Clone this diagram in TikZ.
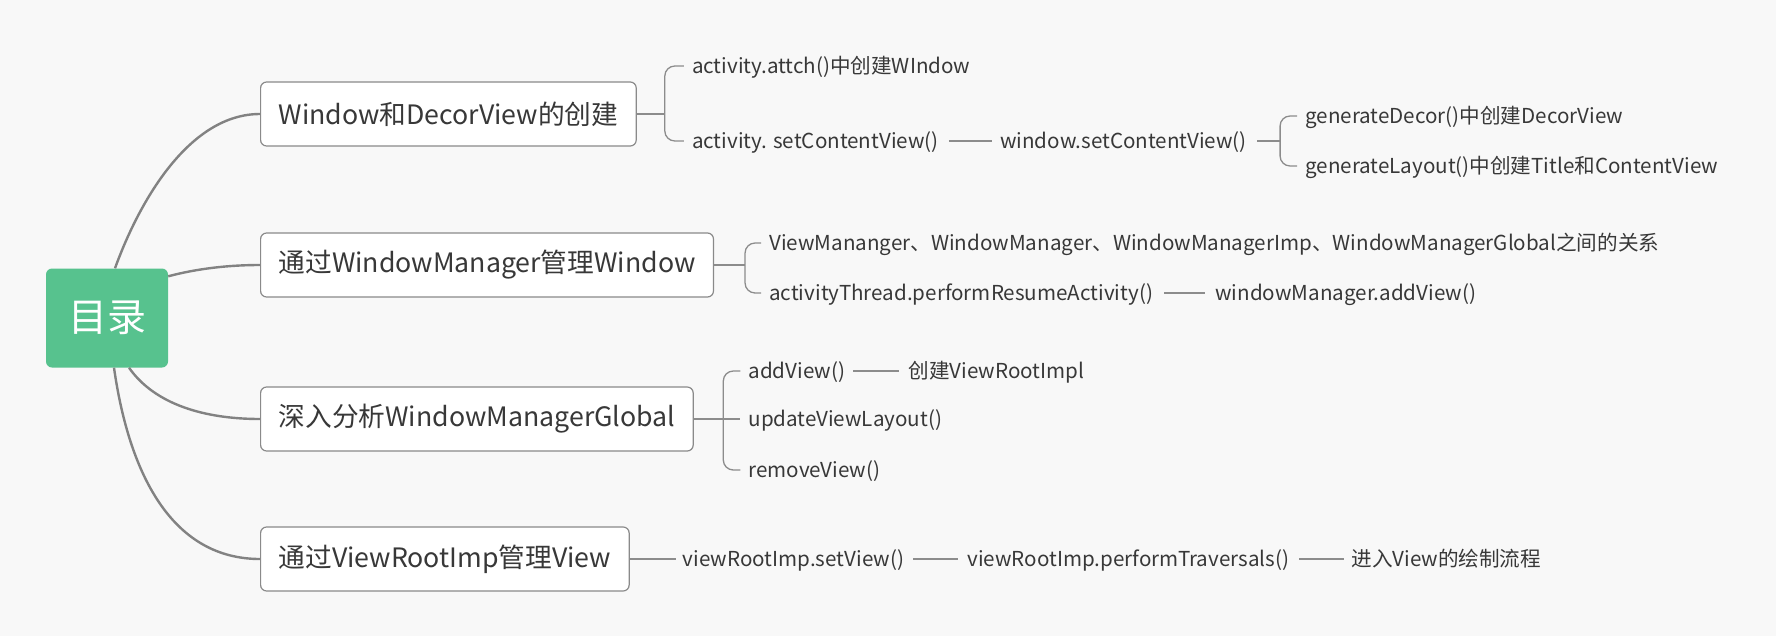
\documentclass[tikz,border=0pt]{standalone}
\usepackage{fontspec}
\setmainfont{Noto Sans CJK SC}
\usetikzlibrary{positioning,calc}
\definecolor{bg}{HTML}{F8F8F8}
\definecolor{rootc}{HTML}{57C28E}
\definecolor{linec}{HTML}{828282}
\definecolor{twigc}{HTML}{8C8C8C}
\definecolor{topicb}{HTML}{8A8A8A}
\definecolor{textc}{HTML}{383838}
\begin{document}
\begin{tikzpicture}[x=1pt,y=-1pt,
  trunk/.style={draw=linec, line width=2.4pt},
  twig/.style={draw=twigc, line width=1.3pt},
  root/.style={rectangle, rounded corners=6pt, fill=rootc, text=white, font=\fontsize{39}{44}\selectfont, minimum width=122pt, minimum height=99pt, inner sep=0pt},
  topic/.style={rectangle, rounded corners=6pt, draw=topicb, line width=1.2pt, fill=white, text=textc, font=\fontsize{26.7}{31}\selectfont, minimum height=64pt, inner xsep=18pt, anchor=west},
  leaf/.style={text=textc, font=\fontsize{20.6}{24}\selectfont, inner sep=0pt, text height=17.4pt, text depth=2.2pt, anchor=west},
  brace/.style={twig, rounded corners=10pt},
]
\useasboundingbox (0,0) rectangle (1786,640);
\fill[white] (0,0) rectangle (1786,640);
\fill[bg] (0,0) rectangle (1776,636);

% root and topics
\node[root] (root) at (107,318) {目录};
\node[topic] (n1) at (260,114) {Window和DecorView的创建};
\node[topic] (n2) at (260,265) {通过WindowManager管理Window};
\node[topic] (n3) at (260,419) {深入分析WindowManagerGlobal};
\node[topic] (n4) at (260,559) {通过ViewRootImp管理View};

\draw[trunk] ([xshift=8pt]root.north) .. controls +(25,-69) and +(-70,0) .. (n1.west);
\draw[trunk] ([yshift=-8pt]root.north east) .. controls +(30,-8) and +(-30,0) .. (n2.west);
\draw[trunk] ([xshift=22pt]root.south) .. controls +(26,37) and +(-55,0) .. (n3.west);
\draw[trunk] ([xshift=7pt]root.south) .. controls +(16,112) and +(-85,0) .. (n4.west);

% branch 1
\coordinate (br1) at ([xshift=28pt]n1.east);
\node[leaf] (a1) at ([shift={(27,-48)}]br1) {activity.attch()中创建WIndow};
\node[leaf] (a2) at ([shift={(27,27)}]br1) {activity. setContentView()};
\node[leaf, right=61pt of a2] (a3) {window.setContentView()};
\draw[twig] (n1.east) -- (br1);
\draw[brace] ([xshift=-8pt]a1.west) -- (br1 |- a1.west) -- (br1 |- a2.west) -- ([xshift=-8pt]a2.west);
\draw[twig] ([xshift=10pt]a2.east) -- ([xshift=-8pt]a3.west);

\coordinate (br2) at ([xshift=33pt]a3.east);
\node[leaf] (b1) at ([shift={(25,-25)}]br2) {generateDecor()中创建DecorView};
\node[leaf] (b2) at ([shift={(25,25)}]br2) {generateLayout()中创建Title和ContentView};
\draw[twig] ([xshift=10pt]a3.east) -- (br2);
\draw[brace] ([xshift=-8pt]b1.west) -- (br2 |- b1.west) -- (br2 |- b2.west) -- ([xshift=-8pt]b2.west);

% branch 2
\coordinate (br3) at ([xshift=31pt]n2.east);
\node[leaf] (c1) at ([shift={(24,-22)}]br3) {ViewMananger、WindowManager、WindowManagerImp、WindowManagerGlobal之间的关系};
\node[leaf] (c2) at ([shift={(24,28)}]br3) {activityThread.performResumeActivity()};
\node[leaf, right=62pt of c2] (c3) {windowManager.addView()};
\draw[twig] (n2.east) -- (br3);
\draw[brace] ([xshift=-8pt]c1.west) -- (br3 |- c1.west) -- (br3 |- c2.west) -- ([xshift=-8pt]c2.west);
\draw[twig] ([xshift=11pt]c2.east) -- ([xshift=-10pt]c3.west);

% branch 3
\coordinate (br4) at ([xshift=29.5pt]n3.east);
\node[leaf] (d1) at ([shift={(25,-48)}]br4) {addView()};
\node[leaf] (d2) at ([shift={(25,0)}]br4) {updateViewLayout()};
\node[leaf] (d3) at ([shift={(25,51)}]br4) {removeView()};
\node[leaf, right=63pt of d1] (d4) {创建ViewRootImpl};
\draw[twig] (n3.east) -- ([xshift=-8pt]d2.west);
\draw[brace] ([xshift=-8pt]d1.west) -- (br4 |- d1.west) -- (br4 |- d3.west) -- ([xshift=-8pt]d3.west);
\draw[twig] ([xshift=8pt]d1.east) -- ([xshift=-9pt]d4.west);

% branch 4
\node[leaf, right=53pt of n4] (e1) {viewRootImp.setView()};
\node[leaf, right=63pt of e1] (e2) {viewRootImp.performTraversals()};
\node[leaf, right=62pt of e2] (e3) {进入View的绘制流程};
\draw[twig] (n4.east) -- ([xshift=-7pt]e1.west);
\draw[twig] ([xshift=9pt]e1.east) -- ([xshift=-9pt]e2.west);
\draw[twig] ([xshift=10pt]e2.east) -- ([xshift=-7pt]e3.west);
\end{tikzpicture}
\end{document}
